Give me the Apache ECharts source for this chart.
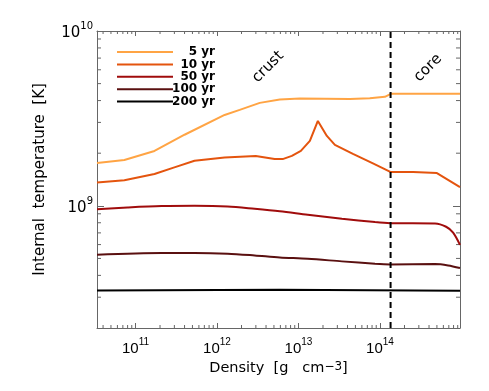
<!DOCTYPE html>
<html><head><meta charset="utf-8">
<script src="https://cdn.jsdelivr.net/npm/echarts@6/dist/echarts.min.js"></script>
<style>html,body{margin:0;padding:0;background:#fff}#c{width:489px;height:391px}</style>
</head><body><div id="c"></div>
<script>
const seriesNames = ['5 yr', '10 yr', '50 yr', '100 yr', '200 yr'];
const seriesColors = ['#ffa444', '#e4540e', '#a00c0c', '#5a1010', '#000000'];

const rho5 = [3.37e10, 7.3e10, 1.71e11, 4.0e11, 1.24e12, 1.9e12, 3.35e12, 5.9e12, 1.04e13, 4.27e13, 7.5e13, 1.15e14, 1.36e14, 9.6e14];
const T5 = [1.76e9, 1.83e9, 2.06e9, 2.55e9, 3.31e9, 3.54e9, 3.88e9, 4.06e9, 4.11e9, 4.08e9, 4.12e9, 4.2e9, 4.37e9, 4.37e9];

const rho10 = [3.37e10, 7.3e10, 1.71e11, 3.0e11, 5.3e11, 1.24e12, 2.99e12, 5.1e12, 6.4e12, 8.3e12, 1.07e13, 1.38e13, 1.73e13, 2.23e13, 2.8e13, 4.66e13, 8.2e13, 1.36e14, 2.55e14, 5.0e14, 9.6e14];
const T10 = [1.36e9, 1.40e9, 1.52e9, 1.66e9, 1.81e9, 1.89e9, 1.93e9, 1.85e9, 1.85e9, 1.93e9, 2.06e9, 2.35e9, 3.06e9, 2.51e9, 2.23e9, 1.98e9, 1.75e9, 1.56e9, 1.56e9, 1.54e9, 1.28e9];

const rho50 = [3.37e10, 7.97e10, 2.09e11, 5.3e11, 1.35e12, 2.9e12, 5.9e12, 1.30e13, 3.41e13, 8.7e13, 1.33e14, 4.74e14, 6.48e14, 7.9e14, 9.6e14];
const T50 = [9.57e8, 9.78e8, 9.96e8, 1.0e9, 9.91e8, 9.61e8, 9.3e8, 8.88e8, 8.43e8, 8.07e8, 7.96e8, 7.93e8, 7.59e8, 7.03e8, 5.98e8];

const rho100 = [3.37e10, 2.09e11, 5.3e11, 1.35e12, 2.9e12, 5.9e12, 1.30e13, 3.41e13, 8.7e13, 1.33e14, 4.74e14, 6.86e14, 9.6e14];
const T100 = [5.25e8, 5.37e8, 5.37e8, 5.32e8, 5.2e8, 5.07e8, 4.98e8, 4.81e8, 4.66e8, 4.62e8, 4.64e8, 4.56e8, 4.41e8];

const rho200 = [3.37e10, 5.9e12, 9.6e14];
const T200 = [3.28e8, 3.31e8, 3.27e8];

const crustCoreDensity = 1.35e14;
const regionLabels = ['crust', 'core'];

const xMin = 3.37e10, xMax = 9.6e14;
const yMin = 2e8, yMax = 1e10;

const xMinorTicks = [4e10, 5e10, 6e10, 7e10, 8e10, 9e10,
  2e11, 3e11, 4e11, 5e11, 6e11, 7e11, 8e11, 9e11,
  2e12, 3e12, 4e12, 5e12, 6e12, 7e12, 8e12, 9e12,
  2e13, 3e13, 4e13, 5e13, 6e13, 7e13, 8e13, 9e13,
  2e14, 3e14, 4e14, 5e14, 6e14, 7e14, 8e14, 9e14];
const yMinorTicks = [3e8, 4e8, 5e8, 6e8, 7e8, 8e8, 9e8, 2e9, 3e9, 4e9, 5e9, 6e9, 7e9, 8e9, 9e9];

const rhoArrays = [rho5, rho10, rho50, rho100, rho200];
const TArrays = [T5, T10, T50, T100, T200];

const axisGray = '#666';
const xTickFont = 'Liberation Sans';
const yTickFont = 'DejaVu Sans';
const titleFont = 'DejaVu Sans';

function powLabel(v) {
  const e = Math.log10(v);
  if (Math.abs(e - Math.round(e)) > 1e-6) return '';
  return '{b|10}{s|' + Math.round(e) + '}';
}
function richTick(fam, big, small) {
  return {
    b: { fontSize: big, fontFamily: fam, color: '#000', lineHeight: big + 4, verticalAlign: 'bottom' },
    s: { fontSize: small, fontFamily: fam, color: '#000', lineHeight: small + 1, verticalAlign: 'top' }
  };
}

function baseX(pos, showLabel) {
  return {
    type: 'log', logBase: 10, min: xMin, max: xMax, position: pos,
    axisLine: { show: true, lineStyle: { color: axisGray, width: 1 } },
    axisTick: { show: true, inside: true, length: 5, lineStyle: { color: axisGray } },
    axisLabel: { show: showLabel, formatter: powLabel, fontSize: 15, fontFamily: xTickFont, color: '#000',
      rich: richTick(xTickFont, 15, 10), margin: 9 },
    splitLine: { show: false }
  };
}
function baseY(pos, showLabel) {
  return {
    type: 'log', logBase: 10, min: yMin, max: yMax, position: pos,
    axisLine: { show: true, lineStyle: { color: axisGray, width: 1 } },
    axisTick: { show: true, inside: true, length: 7, lineStyle: { color: axisGray } },
    axisLabel: { show: showLabel, formatter: powLabel, fontSize: 15, fontFamily: yTickFont, color: '#000',
      rich: richTick(yTickFont, 15, 10), margin: 4 },
    splitLine: { show: false }
  };
}

const xAxes = [baseX('bottom', true), baseX('top', false)];
Object.assign(xAxes[0], {
  name: 'Density  [g   cm{s|\u22123}]', nameLocation: 'middle', nameGap: 29,
  nameTextStyle: { fontSize: 14.5, fontFamily: titleFont, color: '#000',
    rich: { s: { fontSize: 12, fontFamily: titleFont, color: '#000', verticalAlign: 'top', lineHeight: 11 } } }
});
const yAxes = [baseY('left', true), baseY('right', false)];
Object.assign(yAxes[0], {
  name: 'Internal  temperature  [K]', nameLocation: 'middle', nameGap: 49, nameRotate: 90,
  nameTextStyle: { fontSize: 15, fontFamily: titleFont, color: '#000' }
});

const series = seriesNames.map((n, i) => ({
  name: n, type: 'line', xAxisIndex: 0, yAxisIndex: 0,
  data: rhoArrays[i].map((r, j) => [r, TArrays[i][j]]),
  showSymbol: false, symbol: 'none', smooth: (i === 2 || i === 3) ? 0.3 : false,
  lineStyle: { color: seriesColors[i], width: 2 }, itemStyle: { color: seriesColors[i] },
  z: 3, animation: false, silent: true
}));

series.push({
  name: 'crust-core', type: 'line', xAxisIndex: 0, yAxisIndex: 0,
  data: [[crustCoreDensity, yMin], [crustCoreDensity, yMax]],
  showSymbol: false, symbol: 'none',
  lineStyle: { color: '#000', width: 2, type: [6, 4] }, z: 4, animation: false, silent: true
});

series.push({
  name: 'xminor', type: 'custom', xAxisIndex: 0, yAxisIndex: 0, clip: false, silent: true, animation: false,
  data: xMinorTicks.map(v => [v, yMin]),
  renderItem: (params, api) => {
    const v = api.value(0);
    const p0 = api.coord([v, yMin]); const p1 = api.coord([v, yMax]);
    const st = { stroke: axisGray, lineWidth: 1 };
    return { type: 'group', children: [
      { type: 'line', shape: { x1: p0[0], y1: p0[1], x2: p0[0], y2: p0[1] - 3 }, style: st },
      { type: 'line', shape: { x1: p1[0], y1: p1[1], x2: p1[0], y2: p1[1] + 3 }, style: st }
    ] };
  }
});
series.push({
  name: 'yminor', type: 'custom', xAxisIndex: 0, yAxisIndex: 0, clip: false, silent: true, animation: false,
  data: yMinorTicks.map(v => [xMin, v]),
  renderItem: (params, api) => {
    const v = api.value(1);
    const p0 = api.coord([xMin, v]); const p1 = api.coord([xMax, v]);
    const st = { stroke: axisGray, lineWidth: 1 };
    return { type: 'group', children: [
      { type: 'line', shape: { x1: p0[0], y1: p0[1], x2: p0[0] + 4, y2: p0[1] }, style: st },
      { type: 'line', shape: { x1: p1[0], y1: p1[1], x2: p1[0] - 4, y2: p1[1] }, style: st }
    ] };
  }
});

const option = {
  backgroundColor: '#fff',
  animation: false,
  grid: { left: 97, right: 29, top: 31, bottom: 63, containLabel: false },
  xAxis: xAxes,
  yAxis: yAxes,
  legend: {
    data: seriesNames, orient: 'vertical', left: 117, top: 46, padding: 0,
    icon: 'rect', itemWidth: 56, itemHeight: 2, itemGap: 0.4,
    selectedMode: false,
    formatter: '{t|{name}}',
    textStyle: { color: '#000', fontSize: 12, fontWeight: 'bold', fontFamily: titleFont, lineHeight: 12,
      rich: { t: { width: 37, align: 'right', fontSize: 12, fontWeight: 'bold', fontFamily: titleFont, lineHeight: 12, color: '#000' } } }
  },
  graphic: [
    { type: 'text', x: 268, y: 67, rotation: Math.PI / 4,
      style: { text: regionLabels[0], font: '15px DejaVu Sans', fill: '#000', align: 'center', verticalAlign: 'middle' } },
    { type: 'text', x: 428, y: 68, rotation: Math.PI / 4,
      style: { text: regionLabels[1], font: '15px DejaVu Sans', fill: '#000', align: 'center', verticalAlign: 'middle' } }
  ],
  series: series
};

const chart = echarts.init(document.getElementById('c'), null, { renderer: 'canvas' });
chart.setOption(option);
</script>
</body></html>
